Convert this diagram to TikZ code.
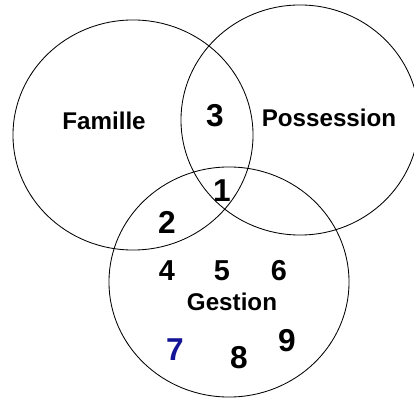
\documentclass[tikz,border=0pt]{standalone}
\usepackage{fontspec}
\setmainfont{Liberation Sans}
\usepackage{xcolor}
\usetikzlibrary{positioning}
\definecolor{numblue}{RGB}{20,20,150}

\begin{document}
\begin{tikzpicture}[
    x=0.025cm, y=-0.025cm,
    set/.style={draw, line width=0.6pt},
    setname/.style={font=\fontsize{17.2}{20}\selectfont\bfseries, inner sep=0pt},
    big/.style={font=\fontsize{22.5}{26}\selectfont\bfseries, inner sep=0pt},
    small/.style={font=\fontsize{20.5}{24}\selectfont\bfseries, inner sep=0pt},
]
\useasboundingbox (0,0) rectangle (414,400);

% the three sets
\coordinate (famc) at (133,135);
\coordinate (posc) at (300,120);
\coordinate (gesc) at (229,282);
\draw[set] (famc) ellipse [x radius=3cm, y radius=2.875cm];
\draw[set] (posc) ellipse [x radius=2.975cm, y radius=2.875cm];
\draw[set] (gesc) ellipse [x radius=3cm, y radius=2.875cm];

\node[setname] (famille) at (104,121) {Famille};
\node[setname] (possession) at (329,118) {Possession};
\node[setname] (gestion) at (232,302) {Gestion};

\node[big] (n3) at (215,116) {3};
\node[big] (n1) at (222,191) {1};
\node[big] (n2) at (167,222) {2};
\node[small] (n4) at (167,271) {4};
\node[small] (n5) at (222,271) {5};
\node[small] (n6) at (279,271) {6};
\node[big, text=numblue] (n7) at (175,350) {7};
\node[big] (n8) at (239,358) {8};
\node[big] (n9) at (287,341) {9};

\end{tikzpicture}
\end{document}
